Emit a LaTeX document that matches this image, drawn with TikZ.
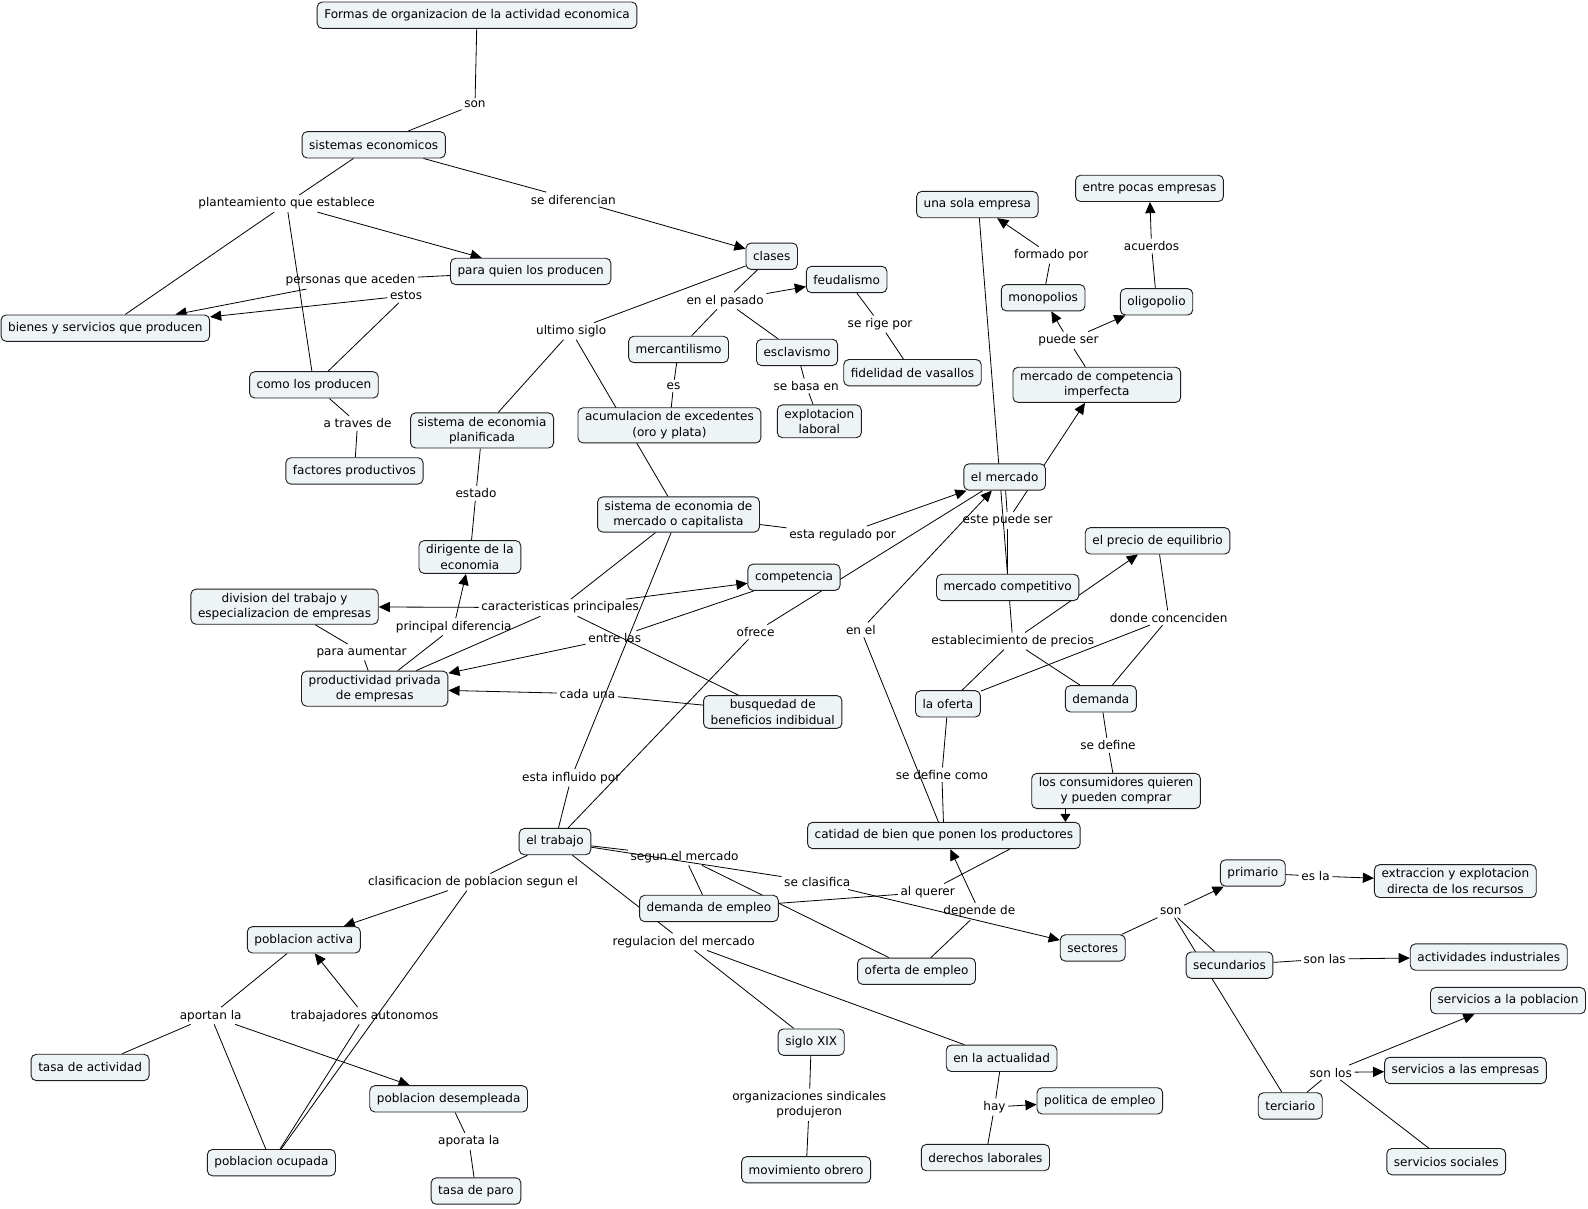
\documentclass[tikz,border=0pt]{standalone}
\usepackage{fontspec}
\setmainfont{DejaVu Sans}
\usetikzlibrary{arrows.meta}
\pgfdeclarelayer{bg}
\pgfsetlayers{bg,main}
\definecolor{boxfill}{HTML}{EEF3F5}
\definecolor{boxline}{HTML}{1E1E1E}
\begin{document}
\begin{tikzpicture}[x=1pt,y=-1pt,
  concept/.style={draw=boxline, fill=boxfill, rounded corners=5pt, line width=0.9pt, inner xsep=7pt, inner ysep=4pt, minimum height=26pt, align=center, font=\fontsize{11.9}{15.2}\selectfont},
  lp/.style={inner sep=2.5pt, align=center, font=\fontsize{11.9}{15.2}\selectfont},
  ln/.style={line width=0.8pt, draw=black},
  arr/.style={line width=0.8pt, draw=black, -{Triangle[length=11pt,width=10pt]}},
]
\useasboundingbox (0,0) rectangle (1568,1193);
% concepts
\node[concept] (formas) at (471,15) {Formas de organizacion de la actividad economica};
\node[concept] (sist) at (369,143) {sistemas economicos};
\node[concept] (paraq) at (524,268) {para quien los producen};
\node[concept] (bienes) at (104,324) {bienes y servicios que producen};
\node[concept] (como) at (310,380) {como los producen};
\node[concept] (fact) at (350,465) {factores productivos};
\node[concept] (clases) at (762,253) {clases};
\node[concept] (feud) at (836,276) {feudalismo};
\node[concept] (merc) at (670,345) {mercantilismo};
\node[concept] (escl) at (787,348) {esclavismo};
\node[concept] (fidel) at (901,368) {fidelidad de vasallos};
\node[concept] (explo) at (809,416) {explotacion\\laboral};
\node[concept] (acum) at (661,420) {acumulacion de excedentes\\(oro y plata)};
\node[concept] (planif) at (476,425) {sistema de economia\\planificada};
\node[concept] (dirig) at (464,550) {dirigente de la\\economia};
\node[concept] (divis) at (281,599) {division del trabajo y\\especializacion de empresas};
\node[concept] (produc) at (370,680) {productividad privada\\de empresas};
\node[concept] (capit) at (670,508) {sistema de economia de\\mercado o capitalista};
\node[concept] (compet) at (784,570) {competencia};
\node[concept] (busq) at (763,703) {busquedad de\\beneficios indibidual};
\node[concept] (elmerc) at (992,471) {el mercado};
\node[concept] (unasola) at (965,202) {una sola empresa};
\node[concept] (pocas) at (1135,186) {entre pocas empresas};
\node[concept] (mono) at (1030,294) {monopolios};
\node[concept] (oligo) at (1142,298) {oligopolio};
\node[concept] (imperf) at (1083,380) {mercado de competencia\\imperfecta};
\node[concept] (mcomp) at (995,580) {mercado competitivo};
\node[concept] (precio) at (1143,534) {el precio de equilibrio};
\node[concept] (oferta) at (936,695) {la oferta};
\node[concept] (demanda) at (1087,690) {demanda};
\node[concept] (consum) at (1102,781) {los consumidores quieren\\y pueden comprar};
\node[concept] (catid) at (932,825) {catidad de bien que ponen los productores};
\node[concept] (trabajo) at (548,831) {el trabajo};
\node[concept] (dememp) at (700,897) {demanda de empleo};
\node[concept] (ofemp) at (905,959) {oferta de empleo};
\node[concept] (sectores) at (1079,936) {sectores};
\node[concept] (prim) at (1237,862) {primario};
\node[concept] (extrac) at (1437,870) {extraccion y explotacion\\directa de los recursos};
\node[concept] (secund) at (1214,953) {secundarios};
\node[concept] (activ) at (1470,945) {actividades industriales};
\node[concept] (servpob) at (1489,988) {servicios a la poblacion};
\node[concept] (servemp) at (1447,1057) {servicios a las empresas};
\node[concept] (terc) at (1274,1092) {terciario};
\node[concept] (servsoc) at (1428,1147) {servicios sociales};
\node[concept] (pobact) at (300,928) {poblacion activa};
\node[concept] (tasaact) at (89,1054) {tasa de actividad};
\node[concept] (pobdes) at (443,1085) {poblacion desempleada};
\node[concept] (pobocu) at (268,1148) {poblacion ocupada};
\node[concept] (tasaparo) at (470,1176) {tasa de paro};
\node[concept] (siglo) at (801,1029) {siglo XIX};
\node[concept] (actual) at (989,1045) {en la actualidad};
\node[concept] (polit) at (1086,1087) {politica de empleo};
\node[concept] (derech) at (973,1143) {derechos laborales};
\node[concept] (movim) at (796,1155) {movimiento obrero};
% linking phrases
\node[lp] (l_son) at (469,103) {son};
\node[lp] (l_plant) at (283,201) {planteamiento que establece};
\node[lp] (l_difer) at (566,197) {se diferencian};
\node[lp] (l_pers) at (346,277) {personas que aceden};
\node[lp] (l_estos) at (401,292) {estos};
\node[lp] (l_traves) at (353,418) {a traves de};
\node[lp] (l_ultimo) at (564,327) {ultimo siglo};
\node[lp] (l_pasado) at (716,297) {en el pasado};
\node[lp] (l_rige) at (869,320) {se rige por};
\node[lp] (l_es) at (665,381) {es};
\node[lp] (l_basa) at (796,381) {se basa en};
\node[lp] (l_estado) at (470,487) {estado};
\node[lp] (l_regul) at (832,528) {esta regulado por};
\node[lp] (l_caract) at (553,600) {caracteristicas principales};
\node[lp] (l_princ) at (448,619) {principal diferencia};
\node[lp] (l_aument) at (357,644) {para aumentar};
\node[lp] (l_entre) at (607,630) {entre las};
\node[lp] (l_cada) at (580,685) {cada una};
\node[lp] (l_ofrece) at (746,624) {ofrece};
\node[lp] (l_enel) at (850,622) {en el};
\node[lp] (l_este) at (995,514) {este puede ser};
\node[lp] (l_formado) at (1038,252) {formado por};
\node[lp] (l_acuer) at (1137,243) {acuerdos};
\node[lp] (l_puede) at (1055,336) {puede ser};
\node[lp] (l_estab) at (1000,633) {establecimiento de precios};
\node[lp] (l_donde) at (1154,610) {donde concenciden};
\node[lp] (l_sedef) at (1094,736) {se define};
\node[lp] (l_defcomo) at (930,765) {se define como};
\node[lp] (l_influ) at (564,768) {esta influido por};
\node[lp] (l_segun) at (676,846) {segun el mercado};
\node[lp] (l_clasif) at (807,871) {se clasifica};
\node[lp] (l_querer) at (916,881) {al querer};
\node[lp] (l_depende) at (967,900) {depende de};
\node[lp] (l_clapob) at (467,871) {clasificacion de poblacion segun el};
\node[lp] (l_regmerc) at (675,930) {regulacion del mercado};
\node[lp] (l_son2) at (1156,900) {son};
\node[lp] (l_esla) at (1299,865) {es la};
\node[lp] (l_sonlas) at (1308,947) {son las};
\node[lp] (l_sonlos) at (1314,1059) {son los};
\node[lp] (l_aportan) at (208,1003) {aportan la};
\node[lp] (l_autonom) at (360,1003) {trabajadores autonomos};
\node[lp] (l_aporata) at (463,1127) {aporata la};
\node[lp] (l_sindic) at (799,1091) {organizaciones sindicales\\produjeron};
\node[lp] (l_hay) at (982,1093) {hay};
\begin{pgfonlayer}{bg}
\fill[white] (0,0) rectangle (1568,1193);
\draw[ln] (formas) -- (l_son); \draw[ln] (l_son) -- (sist);
\draw[ln] (sist) -- (l_plant);
\draw[arr] (l_plant) -- (paraq);
\draw[ln] (l_plant) -- (bienes);
\draw[ln] (l_plant) -- (como);
\draw[ln] (sist) -- (l_difer); \draw[arr] (l_difer) -- (clases);
\draw[ln] (paraq) -- (l_pers); \draw[arr] (l_pers) -- (bienes);
\draw[ln] (como) -- (l_estos); \draw[arr] (l_estos) -- (bienes);
\draw[ln] (como) -- (l_traves); \draw[ln] (l_traves) -- (fact);
\draw[ln] (clases) -- (l_ultimo); \draw[ln] (l_ultimo) -- (planif); \draw[ln] (l_ultimo) -- (capit);
\draw[ln] (clases) -- (l_pasado); \draw[arr] (l_pasado) -- (feud); \draw[ln] (l_pasado) -- (merc); \draw[ln] (l_pasado) -- (escl);
\draw[ln] (feud) -- (l_rige); \draw[ln] (l_rige) -- (fidel);
\draw[ln] (merc) -- (l_es); \draw[ln] (l_es) -- (acum);
\draw[ln] (escl) -- (l_basa); \draw[ln] (l_basa) -- (explo);
\draw[ln] (planif) -- (l_estado); \draw[ln] (l_estado) -- (dirig);
\draw[ln] (capit) -- (l_regul); \draw[arr] (l_regul) -- (elmerc);
\draw[ln] (capit) -- (l_caract); \draw[arr] (l_caract) -- (divis); \draw[arr] (l_caract) -- (compet);
\draw[ln] (l_caract) -- (produc); \draw[ln] (l_caract) -- (busq);
\draw[ln] (produc) -- (l_princ); \draw[arr] (l_princ) -- (dirig);
\draw[ln] (divis) -- (l_aument); \draw[ln] (l_aument) -- (produc);
\draw[ln] (compet) -- (l_entre); \draw[arr] (l_entre) -- (produc);
\draw[ln] (busq) -- (l_cada); \draw[arr] (l_cada) -- (produc);
\draw[ln] (elmerc) -- (l_ofrece); \draw[ln] (l_ofrece) -- (trabajo);
\draw[ln] (capit) -- (l_influ); \draw[ln] (l_influ) -- (trabajo);
\draw[ln] (catid) -- (l_enel); \draw[arr] (l_enel) -- (elmerc);
\draw[ln] (elmerc) -- (l_este); \draw[arr] (l_este) -- (imperf); \draw[ln] (l_este) -- (mcomp);
\draw[ln] ([xshift=2pt]unasola.south) -- (l_estab);
\draw[arr] (l_estab) -- (precio); \draw[ln] (l_estab) -- (oferta); \draw[ln] (l_estab) -- (demanda);
\draw[ln] (precio) -- (l_donde); \draw[ln] (l_donde) -- (oferta); \draw[ln] (l_donde) -- (demanda);
\draw[ln] (demanda) -- (l_sedef); \draw[ln] (l_sedef) -- (consum);
\draw[ln] (oferta) -- (l_defcomo); \draw[ln] (l_defcomo) -- (catid);
\draw[line width=0.8pt, -{Triangle[length=8pt,width=10pt]}] ([xshift=-50pt]consum.south) -- ([xshift=120pt]catid.north);
\draw[ln] (trabajo) -- (l_segun);
\draw[ln] (l_segun) -- (dememp); \draw[ln] (l_segun) -- (ofemp);
\draw[ln] (trabajo) -- (l_clasif); \draw[arr] (l_clasif) -- (sectores);
\draw[ln] (dememp) -- (l_querer); \draw[ln] (l_querer) -- ([xshift=65pt]catid.south);
\draw[ln] (ofemp) -- (l_depende); \draw[arr] (l_depende) -- (catid);
\draw[ln] (trabajo) -- (l_clapob); \draw[arr] (l_clapob) -- (pobact); \draw[ln] (l_clapob) -- (pobocu);
\draw[ln] (trabajo) -- (l_regmerc);
\draw[ln] (l_regmerc) -- (siglo); \draw[ln] (l_regmerc) -- (actual);
\draw[ln] (siglo) -- (l_sindic); \draw[ln] (l_sindic) -- (movim);
\draw[ln] (actual) -- (l_hay); \draw[arr] (l_hay) -- (polit); \draw[ln] (l_hay) -- (derech);
\draw[ln] (sectores) -- (l_son2); \draw[arr] (l_son2) -- (prim); \draw[ln] (l_son2) -- (secund); \draw[ln] (l_son2) -- (terc);
\draw[ln] (prim) -- (l_esla); \draw[arr] (l_esla) -- (extrac);
\draw[ln] (secund) -- (l_sonlas); \draw[arr] (l_sonlas) -- (activ);
\draw[ln] (terc) -- (l_sonlos); \draw[arr] (l_sonlos) -- (servpob); \draw[arr] (l_sonlos) -- (servemp); \draw[ln] (l_sonlos) -- (servsoc);
\draw[ln] (pobact) -- (l_aportan); \draw[ln] (l_aportan) -- (tasaact); \draw[ln] (l_aportan) -- (pobocu); \draw[arr] (l_aportan) -- (pobdes);
\draw[arr] (l_autonom) -- (pobact); \draw[ln] (pobocu) -- (l_autonom);
\draw[ln] (pobdes) -- (l_aporata); \draw[ln] (l_aporata) -- (tasaparo);
\draw[ln] (imperf) -- (l_puede); \draw[arr] (l_puede) -- (mono); \draw[arr] (l_puede) -- (oligo);
\draw[ln] (mono) -- (l_formado); \draw[arr] (l_formado) -- (unasola);
\draw[ln] (oligo) -- (l_acuer); \draw[arr] (l_acuer) -- (pocas);
\end{pgfonlayer}
\end{tikzpicture}
\end{document}
